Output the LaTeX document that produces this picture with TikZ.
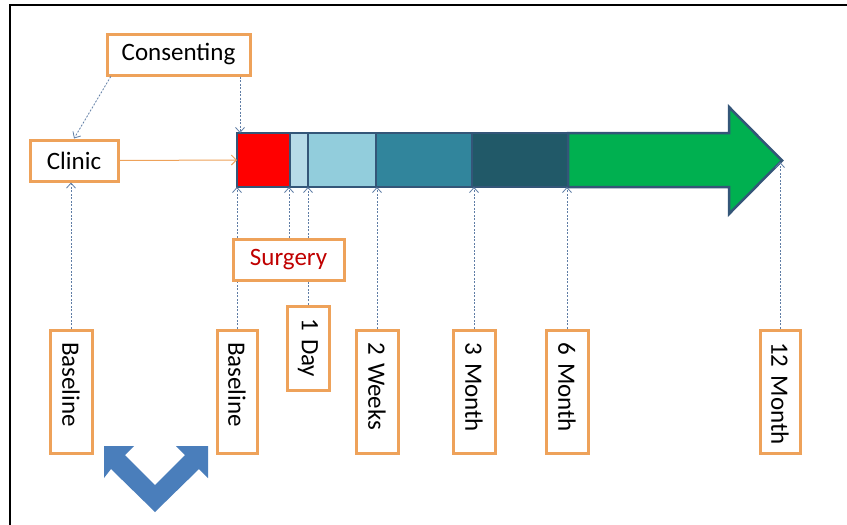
\documentclass[tikz,border=0pt]{standalone}
\usepackage{fontspec}
\setmainfont{Carlito}
\usetikzlibrary{arrows.meta}
\definecolor{boxorange}{RGB}{238,162,90}
\definecolor{conn}{RGB}{95,125,165}
\definecolor{barline}{RGB}{52,86,120}
\definecolor{cred}{RGB}{255,0,0}
\definecolor{cpale}{RGB}{183,219,232}
\definecolor{clight}{RGB}{146,205,220}
\definecolor{cteal}{RGB}{49,133,156}
\definecolor{cdark}{RGB}{33,89,104}
\definecolor{cgreen}{RGB}{0,176,80}
\definecolor{chev}{RGB}{74,126,187}
\definecolor{surgred}{RGB}{192,0,0}
\begin{document}
\begin{tikzpicture}[x=1pt,y=-1pt,
  lbl/.style={draw=boxorange, line width=3pt, fill=white, font=\fontsize{25}{29}\selectfont},
  hbox/.style={lbl, inner sep=0pt, minimum height=41pt},
  vbox/.style={lbl, rotate=-90, inner xsep=12pt, inner ysep=0pt, minimum height=42pt, align=left},
  dline/.style={conn, line width=0.8pt, dash pattern=on 2pt off 1.5pt, -{Straight Barb[length=5pt,width=9pt]}},
  oline/.style={boxorange, line width=1pt, -{Straight Barb[length=5pt,width=10pt]}},
  seg/.style={draw=barline, line width=2.5pt, line join=miter},
]
\useasboundingbox (0,0) rectangle (847,525);
\fill[white] (0,0) rectangle (847,525);
\draw[line width=2.5pt, line join=miter] (10,540) -- (10,5) -- (860,5);

% timeline bar
\filldraw[seg, fill=cred] (237,133) rectangle (290,187);
\filldraw[seg, fill=cpale] (290,133) rectangle (308,187);
\filldraw[seg, fill=clight] (308,133) rectangle (376,187);
\filldraw[seg, fill=cteal] (376,133) rectangle (472,187);
\filldraw[seg, fill=cdark] (472,133) rectangle (568,187);
\filldraw[seg, fill=cgreen] (568,133) -- (729,133) -- (729,107) -- (782,160.5) -- (729,214) -- (729,187) -- (568,187) -- cycle;

\coordinate (barL) at (237,160);
\coordinate (barT) at (240,133);
\coordinate (barB) at (0,187);
\coordinate (s1) at (289,187);
\coordinate (tip) at (782,162);

% label boxes
\node[hbox, minimum width=143pt] (consent) at (178.5,54.5) {Consenting};
\node[hbox, minimum width=88pt] (clinic) at (74,160.5) {Clinic};
\node[vbox, text width=99pt] (bl1) at (71,391.5) {Baseline};
\node[vbox, text width=99pt, minimum height=40pt] (bl2) at (237,391.5) {Baseline};
\node[vbox, text width=60pt] (day) at (308,348) {1 Day};
\node[vbox, text width=99pt] (wk) at (377,391.5) {2 Weeks};
\node[vbox, text width=99pt] (m3) at (474,391.5) {3 Month};
\node[vbox, text width=99pt] (m6) at (567,391.5) {6 Month};
\node[vbox, text width=99pt, minimum height=40pt] (m12) at (780,391.5) {\mbox{12 Month}};

% connectors
\draw[dline] (consent.-162) -- (clinic.north);
\draw[dline] (consent.south -| barT) -- (barT);
\draw[oline] (clinic.east) -- (barL);
\draw[dline] (bl1.west) -- (bl1.west |- clinic.south);
\draw[dline] (bl2.west) -- (bl2.west |- barB);
\draw[dline] (day.west) -- (day.west |- barB);
\draw[dline] (wk.west) -- (wk.west |- barB);
\draw[dline] (m3.west) -- (m3.west |- barB);
\draw[dline] (m6.west) -- (m6.west |- barB);
\draw[dline] (m12.west) -- (m12.west |- tip);

\node[hbox, minimum width=111pt, text=surgred] (surg) at (288.5,259.5) {Surgery};
\draw[dline] (surg.north -| s1) -- (s1);

% chevron double arrow
\fill[chev] (104,446) -- (134,446) -- (125,455) -- (155,485) -- (185,455) -- (176,446) -- (208,446) -- (208,478) -- (199,469) -- (155,512) -- (111,469) -- (104,478) -- cycle;
\end{tikzpicture}
\end{document}
